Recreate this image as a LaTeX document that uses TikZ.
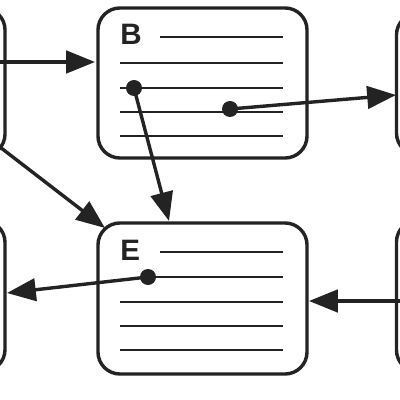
\documentclass[tikz,border=0pt]{standalone}
\usepackage{fontspec}
\setmainfont{Liberation Sans}
\usetikzlibrary{arrows.meta}
\definecolor{ink}{RGB}{35,35,35}
\begin{document}
\begin{tikzpicture}[x=0.025cm,y=-0.025cm,
  card/.style={draw=ink, line width=0.085cm, rounded corners=0.55cm, inner sep=0pt, fill=white},
  rule/.style={draw=ink, line width=0.06cm},
  link/.style={draw=ink, line width=0.085cm, -{Triangle[length=0.72cm,width=0.56cm]}},
  dot/.style={circle, fill=ink, inner sep=0pt, minimum size=0.4cm},
  lbl/.style={text=ink, inner sep=0pt, font=\fontsize{21}{24}\selectfont\bfseries}]
\useasboundingbox (0,0) rectangle (400,400);
\clip (0,0) rectangle (400,400);
\fill[white] (0,0) rectangle (400,400);
% boxes
\node[card, minimum width=5.125cm, minimum height=3.7cm] (A) at (-97.5,82) {};
\node[card, minimum width=5.125cm, minimum height=3.775cm] (D) at (-97.5,296) {};
\node[card, minimum width=5.225cm, minimum height=3.75cm] (B) at (202.5,83) {};
\node[card, minimum width=5.225cm, minimum height=3.775cm] (E) at (202.5,298.5) {};
\node[card, minimum width=5.125cm, minimum height=3.55cm] (C) at (499,84) {};
\node[card, minimum width=5.125cm, minimum height=3.8cm] (F) at (499,296) {};
% labels
\node[lbl, anchor=base west] (Bl) at (120,45) {B};
\node[lbl, anchor=base west] (El) at (120,260) {E};
% ruled lines in B
\draw[rule] (160,37) -- (283,37);
\draw[rule] (120,63) -- (283,63);
\draw[rule] (120,88) -- (283,88);
\draw[rule] (120,112) -- (283,112);
\draw[rule] (120,136) -- (283,136);
% ruled lines in E
\draw[rule] (160,252) -- (283,252);
\draw[rule] (148,277) -- (283,277);
\draw[rule] (120,302) -- (283,302);
\draw[rule] (120,326) -- (283,326);
\draw[rule] (120,350) -- (283,350);
% dots
\node[dot] (b1) at (134,88) {};
\node[dot] (b2) at (230,109) {};
\node[dot] (e1) at (148,277) {};
% connector ends
\coordinate (a1) at (-30,62);
\coordinate (a2) at (-30,124);
\coordinate (f1) at (440,301);
\coordinate (tB) at (95,62);
\coordinate (tE1) at (105,228);
\coordinate (tE2) at (169,221);
\coordinate (tC) at (396,95);
\coordinate (tD) at (7,293);
\coordinate (tE3) at (309,301);
% connectors
\draw[link] (a1) -- (tB);
\draw[link] (a2) -- (tE1);
\draw[link] (b1.center) -- (tE2);
\draw[link] (b2.center) -- (tC);
\draw[link] (e1.center) -- (tD);
\draw[link] (f1) -- (tE3);
\end{tikzpicture}
\end{document}
